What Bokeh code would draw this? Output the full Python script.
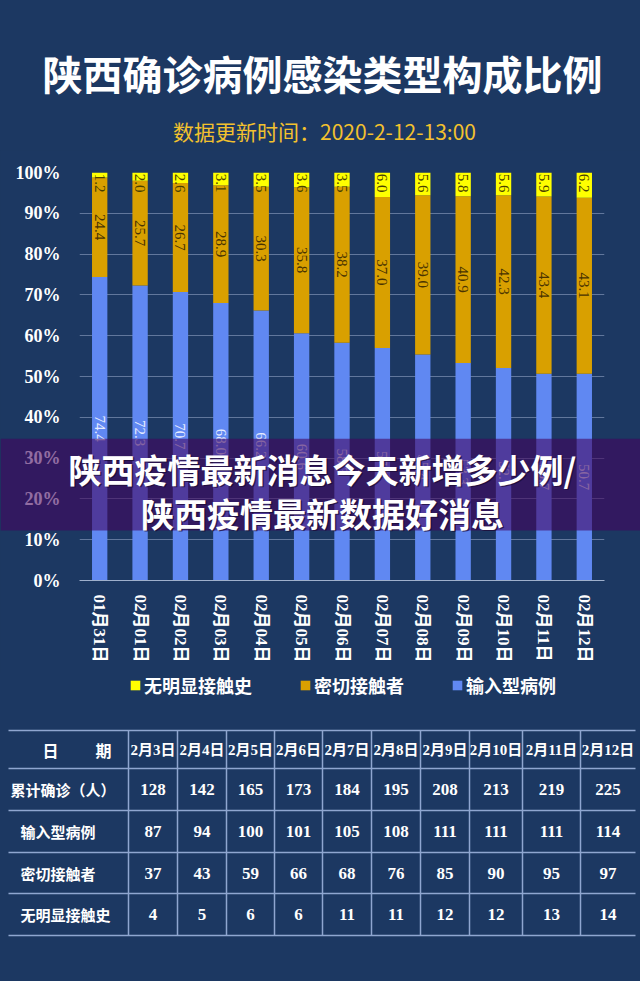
import math

from bokeh.core.properties import value
from bokeh.embed import file_html
from bokeh.models import (ColumnDataSource, FactorRange, FixedTicker, Legend, LegendItem,
                          PrintfTickFormatter, Range1d)
from bokeh.plotting import figure
from bokeh.resources import INLINE

# ---- chart data (percent of confirmed cases by infection type) ----
dates = ["01月31日", "02月01日", "02月02日", "02月03日", "02月04日", "02月05日", "02月06日",
         "02月07日", "02月08日", "02月09日", "02月10日", "02月11日", "02月12日"]
imported_pct = [74.4, 72.3, 70.7, 68.0, 66.2, 60.6, 58.3, 57.0, 55.4, 53.3, 52.1, 50.7, 50.7]
contact_pct = [24.4, 25.7, 26.7, 28.9, 30.3, 35.8, 38.2, 37.0, 39.0, 40.9, 42.3, 43.4, 43.1]
unknown_pct = [1.2, 2.0, 2.6, 3.1, 3.5, 3.6, 3.5, 6.0, 5.6, 5.8, 5.6, 5.9, 6.2]
y_ticks = [0, 10, 20, 30, 40, 50, 60, 70, 80, 90, 100]
series_names = ["无明显接触史", "密切接触者", "输入型病例"]

# ---- table data (case counts) ----
table_dates = ["2月3日", "2月4日", "2月5日", "2月6日", "2月7日", "2月8日", "2月9日",
               "2月10日", "2月11日", "2月12日"]
row_names = ["累计确诊（人）", "输入型病例", "密切接触者", "无明显接触史"]
cumulative = [128, 142, 165, 173, 184, 195, 208, 213, 219, 225]
imported_n = [87, 94, 100, 101, 105, 108, 111, 111, 111, 114]
contact_n = [37, 43, 59, 66, 68, 76, 85, 90, 95, 97]
unknown_n = [4, 5, 6, 6, 11, 11, 12, 12, 13, 14]

title_text = "陕西确诊病例感染类型构成比例"
subtitle_text = "数据更新时间：2020-2-12-13:00"
banner_lines = ["陕西疫情最新消息今天新增多少例/", "陕西疫情最新数据好消息"]

BG = "#1c3862"
BLUE = "#6088f2"
ORANGE = "#d9a000"
YELLOW = "#ffff00"
GRID = "#7f93b5"
CJK = "Noto Sans CJK SC"
SERIF = "Liberation Serif, Noto Sans CJK SC"

W = 640
HEAD_H = 150
CHART_H = 522
TABLE_H = 981 - HEAD_H - CHART_H
BANNER_TOP = 438
BANNER_H = 92          # height of the purple band
BANNER_CANVAS_H = 112  # canvas a little taller so the second line has room


def blank(height, fill=BG, **kw):
    """A borderless figure whose data units are pixels, y growing downward."""
    f = figure(x_range=Range1d(0, W), y_range=Range1d(height, 0), width=W, height=height,
               output_backend="svg", toolbar_location=None, min_border=0,
               background_fill_color=fill, border_fill_color=fill,
               outline_line_color=None, **kw)
    f.axis.visible = False
    f.grid.visible = False
    return f


# ---------------- headline ----------------
head = blank(HEAD_H)
head.text(x=[322], y=[72], text=[title_text], text_align="center", text_baseline="middle",
          text_color="white", text_font=value(CJK), text_font_style="bold",
          text_font_size="40px")
head.text(x=[324], y=[130], text=[subtitle_text], text_align="center",
          text_baseline="middle", text_color="#f2c12e", text_font=value(CJK),
          text_font_size="21px")

# ---------------- stacked percentage bars ----------------
src = ColumnDataSource(dict(
    date=dates, imported=imported_pct, contact=contact_pct, unknown=unknown_pct,
    y_imp=[v / 2 for v in imported_pct],
    y_con=[a + b / 2 for a, b in zip(imported_pct, contact_pct)],
    y_unk=[99.7] * len(dates),
    t_imp=[f"{v:.1f}" for v in imported_pct],
    t_con=[f"{v:.1f}" for v in contact_pct],
    t_unk=[f"{v:.1f}" for v in unknown_pct],
))

p = figure(x_range=FactorRange(factors=dates, range_padding=0), y_range=Range1d(0, 100),
           width=W, height=CHART_H, output_backend="svg", toolbar_location=None,
           min_border_left=79, min_border_right=36, min_border_top=22, min_border_bottom=92,
           background_fill_color=BG, border_fill_color=BG, outline_line_color=None)

bars = p.vbar_stack(["imported", "contact", "unknown"], x="date", width=0.38,
                    color=[BLUE, ORANGE, YELLOW], line_color=None, source=src)

p.ygrid.grid_line_color = GRID
p.ygrid.grid_line_alpha = 0.7
p.xgrid.grid_line_color = None

p.yaxis.ticker = FixedTicker(ticks=y_ticks)
p.yaxis.formatter = PrintfTickFormatter(format="%d%%")
p.yaxis.axis_line_color = None
p.yaxis.major_tick_line_color = None
p.yaxis.minor_tick_line_color = None
p.yaxis.major_label_standoff = 13
p.yaxis.major_label_text_font = "Liberation Serif"
p.yaxis.major_label_text_font_style = "bold"
p.yaxis.major_label_text_font_size = "18px"
p.yaxis.major_label_text_color = "white"

p.xaxis.axis_line_color = "#9fb0cc"
p.xaxis.major_tick_line_color = None
p.xaxis.major_label_orientation = "vertical"
p.xaxis.major_label_standoff = 8
p.xaxis.major_label_text_font = SERIF
p.xaxis.major_label_text_font_style = "bold"
p.xaxis.major_label_text_font_size = "17px"
p.xaxis.major_label_text_color = "white"

# value labels inside the segments, rotated to read downward
lab = dict(source=src, angle=-math.pi / 2, text_font=value("Liberation Serif"),
           text_font_size="15px", text_baseline="middle")
p.text(x="date", y="y_imp", text="t_imp", text_align="center", text_color="#e6ecff", **lab)
p.text(x="date", y="y_con", text="t_con", text_align="center", text_color="#4a3300", **lab)
p.text(x="date", y="y_unk", text="t_unk", text_align="left", text_color="#4a3f00", **lab)

# ---------------- translucent headline banner laid over the bars ----------------
banner = blank(BANNER_CANVAS_H, fill=None,
               styles={"position": "absolute", "top": f"{BANNER_TOP}px", "left": "0px",
                       "z-index": "5"})
banner.quad(left=[0], right=[W], top=[0], bottom=[BANNER_H], fill_color="#44045e",
            fill_alpha=0.58, line_color=None)
for dx, color, alpha in [(1.5, "#1a0a30", 0.7), (0, "white", 1.0)]:
    banner.text(x=[322 + dx, 322 + dx], y=[30 + dx, 74 + dx], text=banner_lines,
                text_align="center", text_baseline="middle", text_color=color,
                text_alpha=alpha, text_font=value(CJK), text_font_style="bold",
                text_font_size="33px")

# ---------------- legend + counts table ----------------
t = blank(TABLE_H)

swatches = [t.rect(x=[-100], y=[-100], width=1, height=1, color=c, line_color=None)
            for c in (YELLOW, ORANGE, BLUE)]
legend = Legend(items=[LegendItem(label=n, renderers=[r]) for n, r in zip(series_names, swatches)],
                orientation="horizontal", location=(129, TABLE_H - 26),
                background_fill_alpha=0, border_line_color=None,
                label_text_color="white", label_text_font=CJK,
                label_text_font_style="bold", label_text_font_size="18px",
                glyph_width=12, glyph_height=12, label_standoff=3, spacing=47,
                padding=0, margin=0)
t.add_layout(legend)

col_edges = [8, 128, 177, 226, 274, 322, 371, 420, 469, 522, 580, 635]
row_edges = [58, 96, 138, 180, 221, 263]
col_mid = [(a + b) / 2 for a, b in zip(col_edges[1:-1], col_edges[2:])]
row_mid = [(a + b) / 2 for a, b in zip(row_edges[:-1], row_edges[1:])]

t.segment(x0=[col_edges[0]] * len(row_edges), x1=[col_edges[-1]] * len(row_edges),
          y0=row_edges, y1=row_edges, line_color="#8fa6d0", line_width=1.5)
t.segment(x0=col_edges[1:-1], x1=col_edges[1:-1], y0=[row_edges[0]] * 10,
          y1=[row_edges[-1]] * 10, line_color="#8fa6d0", line_width=1.5)

t.text(x=[50, 103], y=[row_mid[0]] * 2, text=["日", "期"], text_align="center",
       text_baseline="middle", text_color="white", text_font=value(CJK),
       text_font_style="bold", text_font_size="16px")
t.text(x=col_mid, y=[row_mid[0]] * len(table_dates), text=table_dates, text_align="center",
       text_baseline="middle", text_color="white", text_font=value(SERIF),
       text_font_style="bold", text_font_size="15px")
t.text(x=[10, 20, 20, 20], y=row_mid[1:], text=row_names, text_align="left",
       text_baseline="middle", text_color="white", text_font=value(CJK),
       text_font_style="bold", text_font_size="15px")
for series, ym in zip([cumulative, imported_n, contact_n, unknown_n], row_mid[1:]):
    t.text(x=col_mid, y=[ym] * len(series), text=[str(v) for v in series],
           text_align="center", text_baseline="middle", text_color="white",
           text_font=value("Liberation Serif"), text_font_style="bold",
           text_font_size="17px")

html = file_html([head, p, t, banner], INLINE)
page_css = f"<style>html, body {{ margin: 0; padding: 0; background: {BG}; }}</style>"
html = html.replace("</head>", page_css + "\n</head>", 1)
open("out.html", "w").write(html)
